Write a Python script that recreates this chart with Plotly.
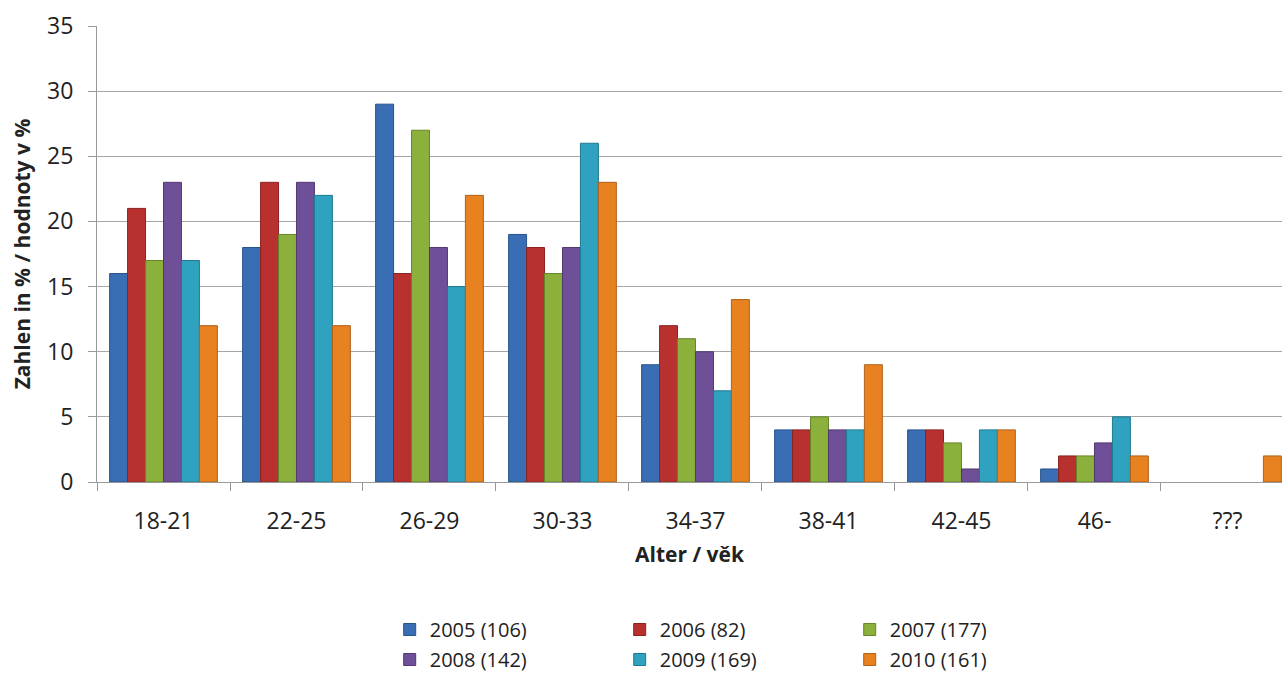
import plotly.graph_objects as go

categories = ["18-21", "22-25", "26-29", "30-33", "34-37", "38-41", "42-45", "46-", "???"]
series_names = ["2005 (106)", "2006 (82)", "2007 (177)", "2008 (142)", "2009 (169)", "2010 (161)"]
v2005 = [16, 18, 29, 19, 9, 4, 4, 1, None]
v2006 = [21, 23, 16, 18, 12, 4, 4, 2, None]
v2007 = [17, 19, 27, 16, 11, 5, 3, 2, None]
v2008 = [23, 23, 18, 18, 10, 4, 1, 3, None]
v2009 = [17, 22, 15, 26, 7, 4, 4, 5, None]
v2010 = [12, 12, 22, 23, 14, 9, 4, 2, 2]
values = [v2005, v2006, v2007, v2008, v2009, v2010]
colors = ["#3A6EB4", "#B8312F", "#8BB03C", "#6F4F97", "#2EA2BE", "#E8811F"]
edges = ["#2A528A", "#8A2220", "#67852A", "#523970", "#1F7A90", "#B0611A"]

font = "Open Sans"
fig = go.Figure()
for i, (name, vals, c, e) in enumerate(zip(series_names, values, colors, edges)):
    fig.add_trace(go.Bar(x=categories, y=vals, name=name,
                         legend="legend" if i < 3 else "legend2",
                         marker=dict(color=c, line=dict(color=e, width=1))))

leg_common = dict(orientation="h", xanchor="left", yanchor="bottom", x=0.247,
                  entrywidth=185, font=dict(size=20, color="#222"),
                  traceorder="normal", itemwidth=30, tracegroupgap=0)

H = 679
fig.update_layout(
    width=1282, height=H,
    margin=dict(l=97, r=0, t=0, b=0),
    paper_bgcolor="white", plot_bgcolor="white",
    barmode="group", bargap=0.19, bargroupgap=0,
    font=dict(family=font, size=18, color="#222"),
    legend=dict(y=1 - 649 / H, **leg_common),
    legend2=dict(y=0, **leg_common),
    xaxis=dict(range=[-0.5, 8.41], showline=True, linecolor="#999", linewidth=1,
               ticks="outside", tickson="boundaries", ticklen=8, tickcolor="#999",
               tickfont=dict(size=23), ticklabelstandoff=18, automargin=False,
               title=dict(text="<b>Alter / věk</b>", font=dict(size=21), standoff=12)),
    yaxis=dict(range=[0, 35], dtick=5, showgrid=True, gridcolor="#A6A6A6", gridwidth=1,
               domain=[1 - 482 / H, 1 - 26 / H], automargin=False,
               showline=True, linecolor="#999", ticks="outside", ticklen=8, tickcolor="#999",
               tickfont=dict(size=23), ticklabelstandoff=10, zeroline=False,
               title=dict(text="<b>Zahlen in % / hodnoty v %</b>", font=dict(size=21), standoff=10)),
)
fig.write_html("out.html", config={"displayModeBar": False},
               post_script="document.body.style.margin='0';document.body.style.overflow='hidden';")
